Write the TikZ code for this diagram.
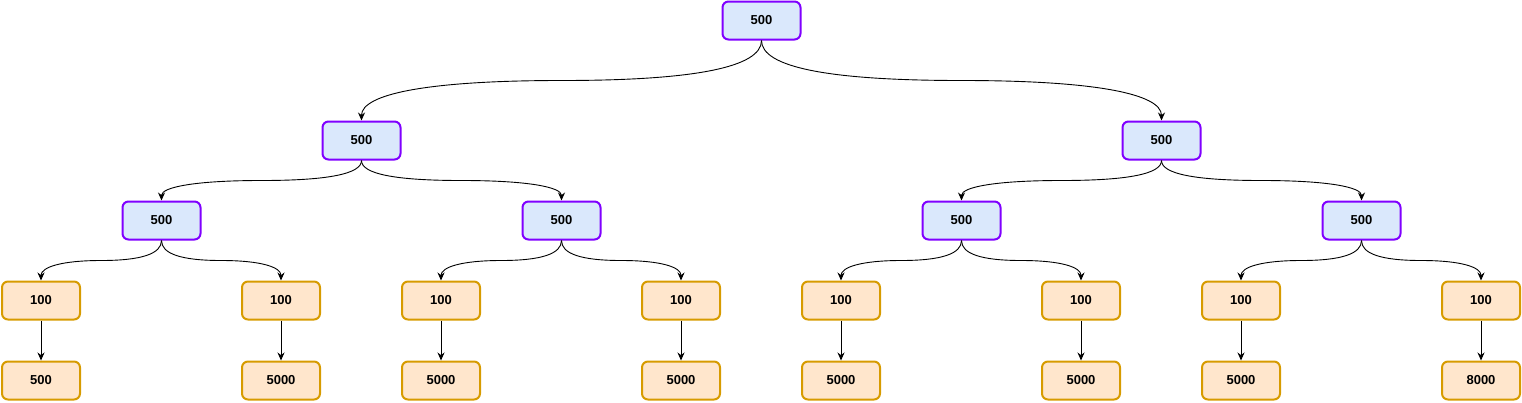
\documentclass[tikz,border=0pt]{standalone}
\usepackage{fontspec}
\setmainfont{Liberation Sans}
\usetikzlibrary{arrows.meta,calc}
\definecolor{sumfill}{HTML}{DAE8FC}
\definecolor{sumline}{HTML}{8000FF}
\definecolor{leaffill}{HTML}{FFE6CC}
\definecolor{leafline}{HTML}{D79B00}
\begin{document}
\begin{tikzpicture}[x=1pt,y=-1pt]
			\tikzset{box/.style={rounded corners=6pt,line width=2pt,minimum width=78pt,minimum height=38pt,inner sep=0pt,font=\fontsize{13}{15}\selectfont\bfseries},
				sum/.style={box,draw=sumline,fill=sumfill},
				leaf/.style={box,draw=leafline,fill=leaffill},
				link/.style={line width=0.9pt,-{Stealth[length=8pt,width=7pt]}}}
			\useasboundingbox(0,0)rectangle(1522,402);
			% sums
			\node[sum](r)at(761.5,20.5){500};
			\node[sum](a)at(361.5,140.5){500};
			\node[sum](b)at(1161.5,140.5){500};
			\node[sum](aa)at(161.5,220.5){500};
			\node[sum](ab)at(561.5,220.5){500};
			\node[sum](ba)at(961.5,220.5){500};
			\node[sum](bb)at(1361.5,220.5){500};
			% leaves
			\foreach \n/\x/\v in{l1/41/500,l2/281/5000,l3/441/5000,l4/681/5000,l5/841/5000,l6/1081/5000,l7/1241/5000,l8/1481/8000}{
				\node[leaf](\n)at(\x,300.5){100};
				\node[leaf](\n v)at(\x,380.5){\v};
				\draw[link](\n)--(\n v);
			}
			% curved links, bent flat half way down
			\foreach \p/\c/\dx/\dy in{r/a/-200/40,r/b/200/40,a/aa/-100/20,a/ab/100/20,b/ba/-100/20,b/bb/100/20,aa/l1/-60/20,aa/l2/60/20,ab/l3/-60/20,ab/l4/60/20,ba/l5/-60/20,ba/l6/60/20,bb/l7/-60/20,bb/l8/60/20}
			\draw[link](\p.south)..controls+(0,{2*\dy/3})and+({-2*\dx/3},0)..($(\p.south)!0.5!(\c.north)$)..controls+({2*\dx/3},0)and+(0,{-2*\dy/3})..(\c.north);
	\end{tikzpicture}
\end{document}
